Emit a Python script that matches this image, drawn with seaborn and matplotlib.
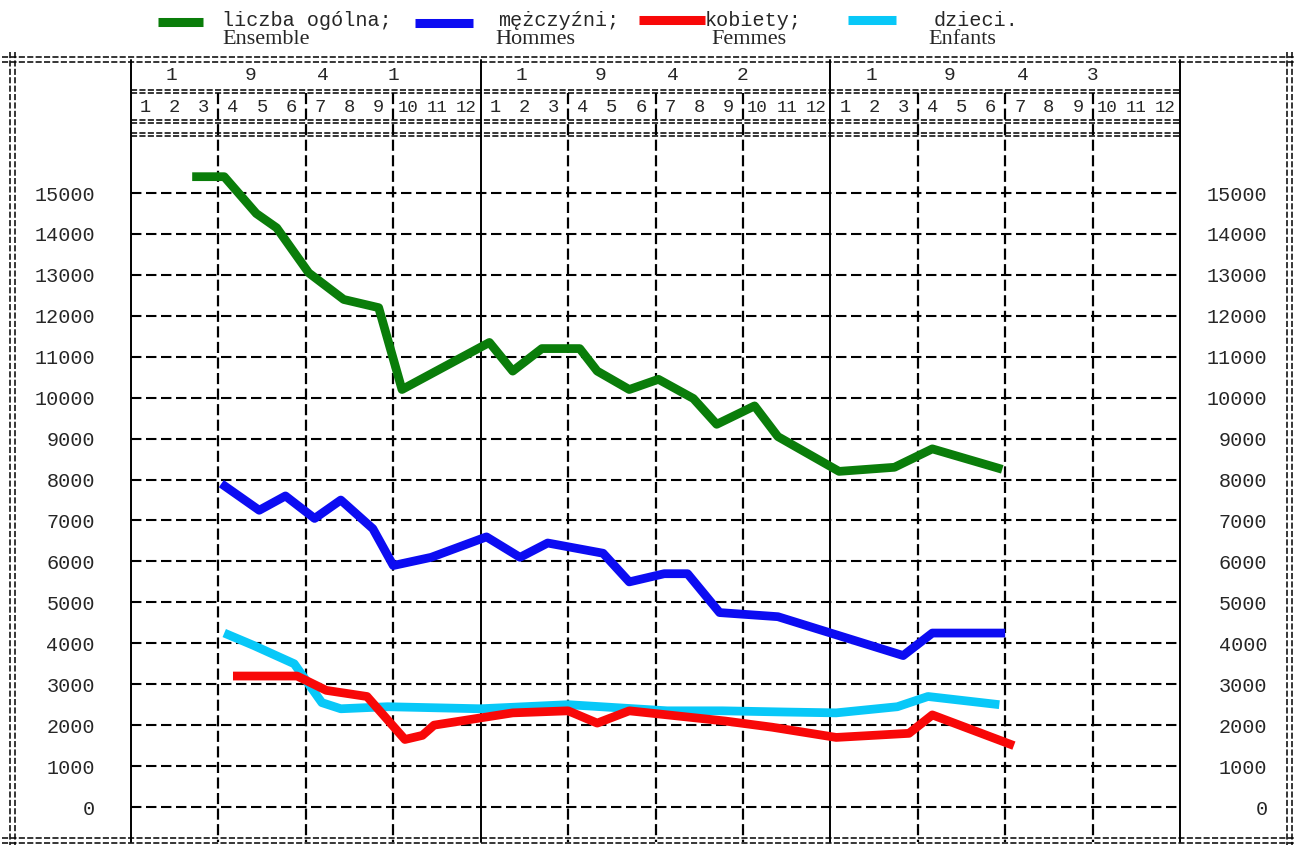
import pandas as pd
import matplotlib
matplotlib.use("Agg")
import matplotlib.pyplot as plt
import matplotlib.transforms as mtransforms
from matplotlib.lines import Line2D
import seaborn as sns

# x = months counted from the start of January 1941 (0) to the end of 1943 (36)
total_x = [2.1, 3.2, 4.3, 5.0, 6.1, 7.3, 8.5, 9.3, 12.3, 13.1, 14.1, 15.4, 16.0,
           17.1, 18.1, 19.3, 20.1, 21.4, 22.2, 24.3, 26.2, 27.5, 29.9]
total_y = [15400, 15400, 14500, 14150, 13050, 12400, 12200, 10200, 11350, 10650,
           11200, 11200, 10650, 10200, 10450, 9980, 9350, 9800, 9050, 8200, 8300,
           8750, 8250]

men_x = [3.1, 4.4, 5.3, 6.3, 7.2, 8.3, 9.0, 10.3, 12.2, 13.35, 14.3, 16.2, 17.1,
         18.3, 19.1, 20.2, 22.2, 26.5, 27.5, 30.0]
men_y = [7900, 7250, 7600, 7050, 7500, 6800, 5900, 6100, 6600, 6100, 6450, 6200,
         5500, 5700, 5700, 4750, 4650, 3700, 4250, 4250]

women_x = [3.5, 5.7, 6.7, 8.1, 9.4, 10.0, 10.4, 13.1, 15.0, 16.0, 17.1, 20.4,
           22.0, 24.2, 26.7, 27.5, 30.3]
women_y = [3200, 3200, 2850, 2700, 1650, 1750, 2000, 2300, 2350, 2050, 2350, 2100,
           1950, 1700, 1800, 2250, 1500]

children_x = [3.2, 4.2, 5.6, 6.55, 7.2, 8.8, 12.0, 15.0, 18.4, 20.3, 22.5, 24.2,
              26.3, 27.35, 29.8]
children_y = [4250, 3950, 3500, 2550, 2400, 2450, 2400, 2500, 2350, 2350, 2320,
              2300, 2450, 2700, 2500]

series_pl = ["liczba ogólna;", "mężczyźni;", "kobiety;", "dzieci."]
series_fr = ["Ensemble", "Hommes", "Femmes", "Enfants"]
colors = ["#0a7d0a", "#0c0cf2", "#f80808", "#08c8f8"]
years = ["1941", "1942", "1943"]
months = [str(m) for m in range(1, 13)]
y_ticks = list(range(0, 16000, 1000))

frames = []
for name, xs, ys in zip(series_pl, [total_x, men_x, women_x, children_x],
                        [total_y, men_y, women_y, children_y]):
    frames.append(pd.DataFrame({"miesiac": xs, "liczba": ys, "grupa": name}))
df = pd.concat(frames, ignore_index=True)

sns.set_style("white")
plt.rcParams["font.family"] = ["Liberation Mono", "DejaVu Sans Mono"]

W, H = 1301, 850
fig = plt.figure(figsize=(W / 100, H / 100), dpi=100)
fx = lambda p: p / W
fy = lambda p: 1 - p / H

ax = fig.add_axes([fx(131), fy(840), fx(1180) - fx(131), fy(138) - fy(840)])
ax.set_xlim(0, 36)
ax.set_ylim(-806, 16345)

sns.lineplot(data=df, x="miesiac", y="liczba", hue="grupa",
             hue_order=[series_pl[0], series_pl[1], series_pl[3], series_pl[2]],
             palette=dict(zip(series_pl, colors)), sort=False, estimator=None,
             linewidth=6.3, legend=False, ax=ax, zorder=5,
             solid_capstyle="butt", solid_joinstyle="round")

dash = (0, (5, 2.2))
ax.set_yticks(y_ticks)
ax.set_xticks([])
ax.yaxis.grid(True, color="black", linewidth=1.5, linestyle=dash)
ax.tick_params(axis="y", length=0, pad=26, labelsize=14.5)
ax.set_xlabel("")
ax.set_ylabel("")
for s in ax.spines.values():
    s.set_visible(False)

rax = ax.twinx()
rax.set_ylim(ax.get_ylim())
rax.set_yticks(y_ticks)
rax.tick_params(axis="y", length=0, pad=63, labelsize=14.5)
for lab in rax.get_yticklabels():
    lab.set_horizontalalignment("right")
for s in rax.spines.values():
    s.set_visible(False)

# table: x in months, y in figure pixels
trans = mtransforms.blended_transform_factory(ax.transData, fig.transFigure)
for m in range(0, 37, 3):
    if m % 12 == 0:
        ax.plot([m, m], [fy(60), fy(842)], transform=trans, color="black",
                lw=1.4, clip_on=False, zorder=2)
    else:
        ax.plot([m, m], [fy(93), fy(842)], transform=trans, color="black",
                lw=1.6, linestyle=(0, (5, 2)), clip_on=False, zorder=2)

for yp in [90, 93, 120, 123, 133, 136]:
    ax.plot([0, 36], [fy(yp), fy(yp)], transform=trans, color="black", lw=1.1,
            linestyle=(0, (4, 1.5)), clip_on=False)

for i, yr in enumerate(years):
    for d, off in zip(yr, [1.4, 4.1, 6.6, 9.0]):
        ax.text(12 * i + off, fy(76), d, transform=trans, ha="center",
                va="center", fontsize=14)
    for j, mm in enumerate(months):
        ax.text(12 * i + j + 0.5, fy(107), mm, transform=trans, ha="center",
                va="center", fontsize=13.5 if len(mm) == 1 else 12.5)

# outer double border
for yp in [57, 62, 838, 843]:
    fig.add_artist(Line2D([fx(2), fx(1295)], [fy(yp), fy(yp)], color="black",
                          lw=1.1, linestyle=(0, (4, 1.5))))
for xp in [10, 15, 1287, 1292]:
    fig.add_artist(Line2D([fx(xp), fx(xp)], [fy(52), fy(845)], color="black",
                          lw=1.1, linestyle=(0, (4, 1.5))))

# legend
sw = [(158, 203, 22), (415, 473, 23), (639, 705, 20), (848, 896, 20)]
txt_x = [222, 498, 705, 934]
fr_x = [222, 495, 711, 928]
for (x0, x1, yp), c, pl, fr, tx, fx0 in zip(sw, colors, series_pl, series_fr, txt_x, fr_x):
    fig.add_artist(Line2D([fx(x0), fx(x1)], [fy(yp), fy(yp)], color=c, lw=6.5,
                          solid_capstyle="butt"))
    fig.text(fx(tx), fy(21), pl, ha="left", va="center", fontsize=14.5)
    fig.text(fx(fx0), fy(40), fr, ha="left", va="center", fontsize=16,
             family=["Liberation Serif", "DejaVu Serif"])

fig.savefig("out.png", dpi=100, facecolor="white")
plt.close(fig)
